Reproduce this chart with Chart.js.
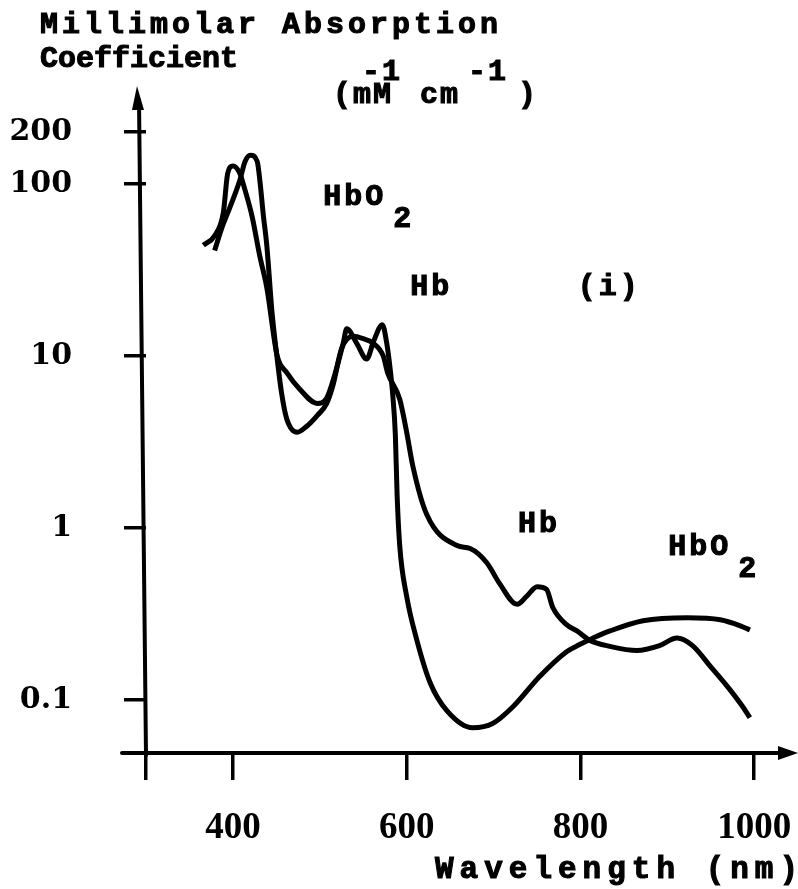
<!DOCTYPE html>
<html>
<head>
<meta charset="utf-8">
<script src="https://cdn.jsdelivr.net/npm/chart.js@4.4.1/dist/chart.umd.min.js"></script>
<style>
  html, body { margin: 0; padding: 0; background: #fff; }
  #wrap { width: 798px; height: 889px; }
</style>
</head>
<body>
<div id="wrap"><canvas id="spectrum" width="798" height="889"></canvas></div>
<script>
// absorption spectra (wavelength nm, mM^-1 cm^-1)
const hbo2Nm = [366, 379, 389, 394, 400, 408, 414, 422, 431, 439, 451, 462, 477, 497, 508, 517, 527, 531, 543, 554, 562, 572, 577, 581, 584, 587, 589, 592, 600, 612, 627, 646, 676, 699, 722, 753, 784, 799, 811, 834, 872, 923, 961, 984, 995];
const hbo2Values = [44, 50, 68, 115, 127, 115, 92, 65, 38, 25, 10, 8.0, 6.4, 5.3, 5.7, 7.7, 11.9, 14.4, 11.7, 9.6, 12.2, 15.2, 11.9, 8.4, 5.9, 3.45, 1.55, 0.79, 0.40, 0.22, 0.126, 0.087, 0.069, 0.073, 0.091, 0.137, 0.191, 0.21, 0.225, 0.252, 0.289, 0.301, 0.293, 0.27, 0.255];

const hbNm = [379, 387, 397, 408, 414, 420, 428, 431, 435, 439, 445, 451, 456, 462, 474, 485, 497, 508, 515, 525, 538, 550, 561, 573, 578, 592, 600, 607, 623, 658, 673, 692, 707, 727, 738, 750, 761, 768, 784, 796, 811, 834, 865, 891, 911, 929, 949, 969, 987, 995];
const hbValues = [41, 55, 74, 105, 135, 147, 135, 105, 66, 44, 18, 9.6, 6.1, 4.3, 3.6, 3.9, 4.5, 5.3, 6.7, 11, 13, 12.6, 11.9, 10, 8, 5.6, 3.6, 2.3, 1.2, 0.79, 0.76, 0.63, 0.475, 0.36, 0.40, 0.456, 0.44, 0.346, 0.274, 0.252, 0.222, 0.205, 0.194, 0.207, 0.229, 0.207, 0.158, 0.12, 0.091, 0.079];

// axis ticks
const xTickValues = [300, 400, 600, 800, 1000];
const xTickLabels = ['', '400', '600', '800', '1000'];
const yTickValues = [0.1, 1, 10, 100, 200];
const yTickLabels = ['0.1', '1', '10', '100', '200'];

// curve labels placed in data space
const curveLabels = [
  { text: 'HbO', sub: '2', x: 504, y: 75 },
  { text: 'Hb', x: 604, y: 22.6 },
  { text: '(i)', x: 797, y: 22.6 },
  { text: 'Hb', x: 728, y: 0.95 },
  { text: 'HbO', sub: '2', x: 901, y: 0.70 }
];

const typeFont = 'Liberation Mono, DejaVu Sans Mono, monospace';

function toPoints(xs, ys) {
  return xs.map((x, i) => ({ x: x, y: ys[i] }));
}

// heavy typewriter text with extra letter spacing
function spaced(ctx, str, x, y, spacing) {
  ctx.letterSpacing = spacing + 'px';
  ctx.fillText(str, x, y);
  ctx.strokeText(str, x, y);
  const w = ctx.measureText(str).width;
  ctx.letterSpacing = '0px';
  return w;
}

// axes with arrow heads, titles and curve labels
const decorPlugin = {
  id: 'decor',
  afterDraw(chart) {
    const ctx = chart.ctx;
    const area = chart.chartArea;
    ctx.save();
    ctx.strokeStyle = '#000';
    ctx.fillStyle = '#000';
    ctx.lineWidth = 4;
    ctx.lineCap = 'round';

    // y axis
    ctx.beginPath();
    ctx.moveTo(area.left, area.bottom);
    ctx.lineTo(area.left - 7, area.top + 12);
    ctx.stroke();
    ctx.beginPath();
    ctx.moveTo(area.left - 9, area.top - 2);
    ctx.lineTo(area.left - 14, area.top + 22);
    ctx.lineTo(area.left - 2, area.top + 22);
    ctx.closePath();
    ctx.fill();

    // x axis
    ctx.beginPath();
    ctx.moveTo(area.left - 24, area.bottom - 2);
    ctx.lineTo(782, area.bottom - 2);
    ctx.stroke();
    ctx.beginPath();
    ctx.moveTo(798, area.bottom - 2);
    ctx.lineTo(778, area.bottom - 9);
    ctx.lineTo(778, area.bottom + 5);
    ctx.closePath();
    ctx.fill();

    // axis titles
    ctx.textBaseline = 'alphabetic';
    ctx.textAlign = 'left';
    ctx.lineWidth = 1.1;
    ctx.font = 'bold 30px ' + typeFont;
    spaced(ctx, 'Millimolar Absorption', 40, 33, 4);
    spaced(ctx, 'Coefficient', 40, 67, 0);
    spaced(ctx, '(mM', 333, 103, 2);
    spaced(ctx, '-1', 362, 80, 2);
    spaced(ctx, 'cm', 420, 103, 2);
    spaced(ctx, '-1', 468, 80, 2);
    spaced(ctx, ')', 518, 103, 2);

    ctx.font = 'bold 31px ' + typeFont;
    spaced(ctx, 'Wavelength (nm)', 435, 878, 6);

    // curve labels
    const xs = chart.scales.x;
    const ys = chart.scales.y;
    curveLabels.forEach(lab => {
      const px = xs.getPixelForValue(lab.x);
      const py = ys.getPixelForValue(lab.y);
      ctx.font = 'bold 30px ' + typeFont;
      const w = spaced(ctx, lab.text, px, py, 3);
      if (lab.sub) {
        spaced(ctx, lab.sub, px + w + lab.text.length * 3 - 2, py + 22, 0);
      }
    });
    ctx.restore();
  }
};

new Chart(document.getElementById('spectrum'), {
  type: 'line',
  data: {
    datasets: [
      {
        label: 'HbO2',
        data: toPoints(hbo2Nm, hbo2Values),
        borderColor: '#000',
        borderWidth: 5,
        pointRadius: 0,
        cubicInterpolationMode: 'monotone',
        fill: false
      },
      {
        label: 'Hb',
        data: toPoints(hbNm, hbValues),
        borderColor: '#000',
        borderWidth: 5,
        pointRadius: 0,
        cubicInterpolationMode: 'monotone',
        fill: false
      }
    ]
  },
  options: {
    responsive: false,
    animation: false,
    layout: { padding: { top: 88, right: 9, left: 0, bottom: 0 } },
    plugins: {
      legend: { display: false },
      tooltip: { enabled: false }
    },
    scales: {
      x: {
        type: 'linear',
        min: 300,
        max: 1040,
        afterFit: (scale) => {
          scale.height = 134;
          scale.paddingLeft = 0;
          scale.paddingRight = 0;
        },
        afterBuildTicks: (scale) => { scale.ticks = xTickValues.map(v => ({ value: v })); },
        border: { display: false },
        grid: {
          drawOnChartArea: false,
          drawTicks: true,
          tickLength: 25,
          color: '#000',
          lineWidth: 3.5
        },
        ticks: {
          autoSkip: false,
          maxRotation: 0,
          padding: 30,
          color: '#000',
          font: { family: 'Liberation Serif, serif', size: 37, weight: 'bold', lineHeight: 1 },
          callback: (v, i) => xTickLabels[i]
        }
      },
      y: {
        type: 'logarithmic',
        min: 0.0479,
        max: 361,
        afterFit: (scale) => {
          scale.width = 146;
          scale.paddingTop = 0;
          scale.paddingBottom = 0;
        },
        afterBuildTicks: (scale) => { scale.ticks = yTickValues.map(v => ({ value: v })); },
        border: { display: false },
        grid: {
          drawOnChartArea: false,
          drawTicks: true,
          tickLength: 22,
          color: '#000',
          lineWidth: 3.5
        },
        ticks: {
          autoSkip: false,
          padding: 52,
          color: '#000',
          font: { family: 'DejaVu Serif, serif', size: 30, weight: 'bold' },
          callback: (v, i) => yTickLabels[i]
        }
      }
    }
  },
  plugins: [decorPlugin]
});
</script>
</body>
</html>
